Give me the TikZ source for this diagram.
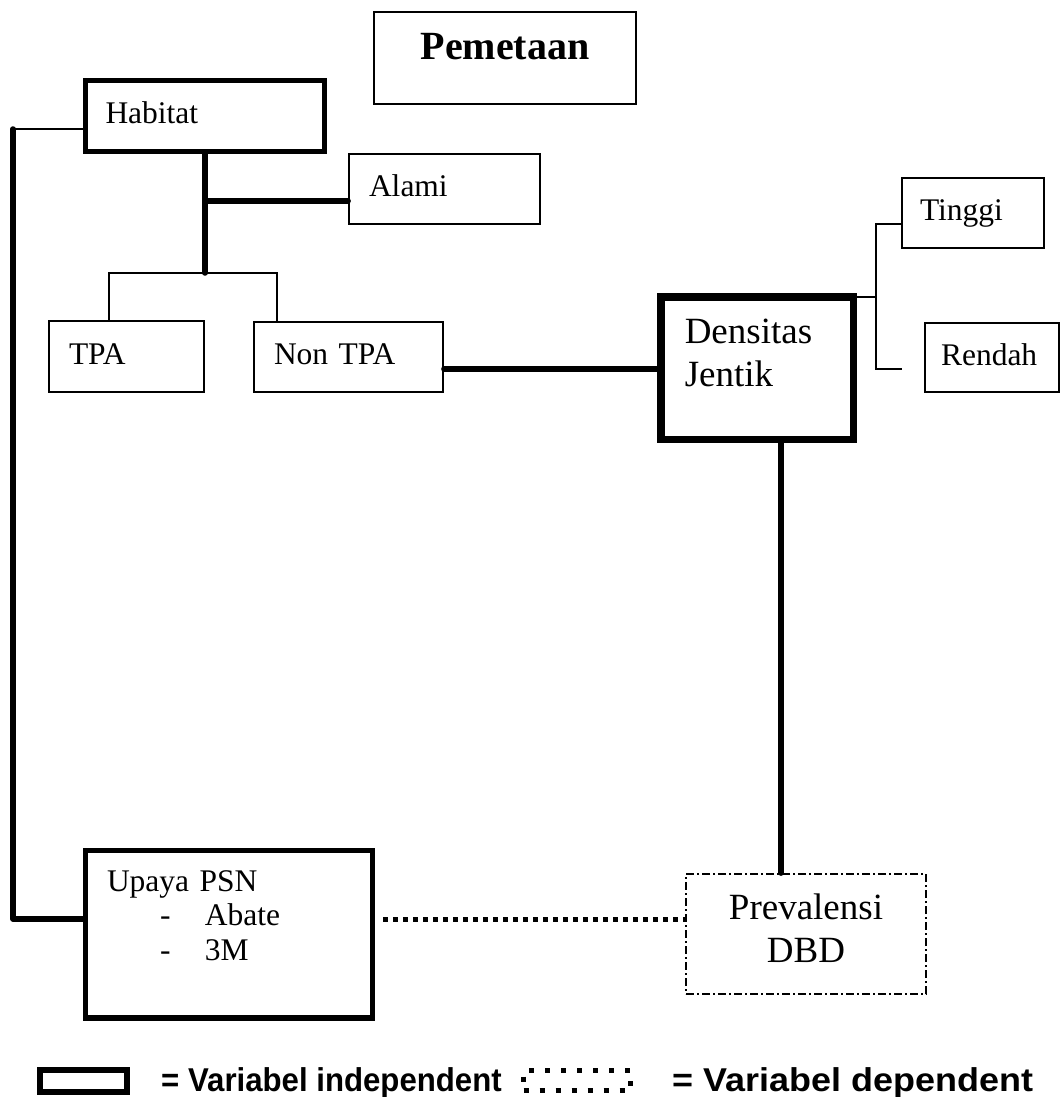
\documentclass[tikz,border=0pt]{standalone}
\usepackage{fontspec}
\setmainfont{Liberation Serif}
\newfontfamily\legendfont{Liberation Sans}
\usepackage{tikz}

\begin{document}
\begin{tikzpicture}[x=1pt,y=-1pt,
   box/.style={draw,line width=1.8pt,inner xsep=20pt,align=left,
      font=\fontsize{31.5}{34.5}\selectfont,text height=22pt,text depth=7pt},
   heavybox/.style={box,line width=5.5pt},
   bigtext/.style={font=\fontsize{37}{43.5}\selectfont},
   thinline/.style={line width=1.8pt},
   thickline/.style={line width=5.5pt,line cap=round,line join=round},
   dotline/.style={line width=5pt,dash pattern=on 5pt off 5pt},
   legendtext/.style={anchor=base west,inner sep=0pt,
      font=\legendfont\bfseries\fontsize{33}{38}\selectfont}]
\useasboundingbox (0,0) rectangle (1061,1097);

\node[box,align=center,minimum width=262pt,minimum height=92pt,
   font=\bfseries\fontsize{40}{44}\selectfont,text height=28pt,text depth=24pt]
   (pemetaan) at (505,58) {Pemetaan};
\node[heavybox,line width=5pt,text width=199pt,minimum height=70pt] (habitat) at (205,116) {Habitat};
\node[box,text width=151pt,minimum height=70pt] (alami) at (444.5,189) {Alami};
\node[box,text width=115pt,minimum height=71pt] (tpa) at (126.5,356.5) {TPA};
\node[box,text width=149pt,minimum height=70pt] (nontpa) at (348.5,357) {Non TPA};
\node[box,inner xsep=18pt,text width=106pt,minimum height=70pt] (tinggi) at (973,213) {Tinggi};
\node[box,inner xsep=16pt,text width=102pt,minimum height=69pt] (rendah) at (992,357.5) {Rendah};
\node[heavybox,bigtext,line width=7.5pt,inner xsep=24pt,text width=144.5pt,
   minimum height=142.5pt,text height=30pt,text depth=80pt]
   (densitas) at (757,368) {Densitas\\Jentik};
\node[heavybox,inner xsep=21.5pt,text width=244pt,minimum height=167.5pt,
   text height=25pt,text depth=111pt] (upaya) at (229,934)
   {Upaya PSN\\\hspace*{53pt}\makebox[45pt][l]{-}Abate\\\hspace*{53pt}\makebox[45pt][l]{-}3M};
\node[box,bigtext,align=center,text width=200pt,minimum height=120pt,
   text height=30pt,text depth=60pt,dash pattern=on 8pt off 3pt on 2pt off 3pt]
   (prevalensi) at (806,934) {Prevalensi\\DBD};

\coordinate (corner) at (13,919);
\coordinate (split) at (205,273);
\coordinate (fork) at (205,201);
\coordinate (knee) at (876,297);
\coordinate (rendah-end) at (902,369);

\draw[thinline] (habitat.west |- 0,129) -- (corner |- 0,129);
\draw[thickline] (corner |- 0,129) -- (corner) -- (upaya.west |- corner);
\draw[thickline] (habitat.south) -- (split);
\draw[thickline] (fork) -- (fork -| alami.west);
\draw[thinline] ([xshift=-17.5pt]tpa.north) |- (split) -| ([xshift=-71.5pt]nontpa.north);
\draw[thickline] (nontpa.east |- 0,369) -- (densitas.west |- 0,369);
\draw[thinline] (densitas.east |- knee) -- (knee);
\draw[thinline] (tinggi.west |- 0,224) -| (knee |- rendah-end) -- (rendah-end);
\draw[thickline] (densitas.south -| 781,0) -- (prevalensi.north -| 781,0);
\draw[dotline,shorten <=8pt] (upaya.east |- corner) -- (prevalensi.west |- corner);

\node[draw,line width=6pt,minimum width=87pt,minimum height=22pt,inner sep=0pt] (indep) at (83.5,1081) {};
\node[legendtext] (indep-txt) at (161,1091) {\scalebox{0.945}[1]{= Variabel independent}};
\node[draw,line width=5pt,dash pattern=on 5pt off 11pt,minimum width=107pt,
   minimum height=20pt,inner sep=0pt] (dep) at (577,1080.5) {};
\node[legendtext] (dep-txt) at (672,1091) {\scalebox{1.09}[1]{= Variabel dependent}};
\end{tikzpicture}
\end{document}
